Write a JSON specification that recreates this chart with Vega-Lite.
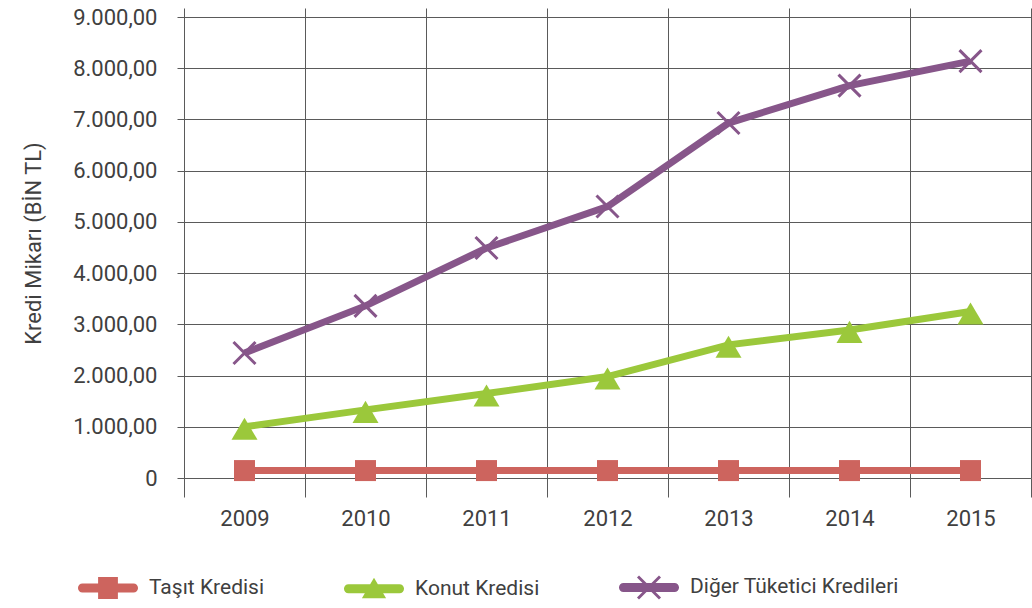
{
  "$schema": "https://vega.github.io/schema/vega-lite/v6.json",
  "width": 847,
  "height": 470,
  "autosize": {"type": "none"},
  "padding": {"left": 184, "top": 8, "right": 1, "bottom": 130},
  "background": "white",
  "config": {
    "locale": {"number": {"decimal": ",", "thousands": ".", "grouping": [3], "currency": ["", ""]}},
    "view": {"stroke": null},
    "font": "Roboto"
  },
  "data": {
    "values": [
      {"year": "2009", "series": "Taşıt Kredisi", "value": 145},
      {"year": "2010", "series": "Taşıt Kredisi", "value": 145},
      {"year": "2011", "series": "Taşıt Kredisi", "value": 145},
      {"year": "2012", "series": "Taşıt Kredisi", "value": 145},
      {"year": "2013", "series": "Taşıt Kredisi", "value": 145},
      {"year": "2014", "series": "Taşıt Kredisi", "value": 145},
      {"year": "2015", "series": "Taşıt Kredisi", "value": 145},
      {"year": "2009", "series": "Konut Kredisi", "value": 1000},
      {"year": "2010", "series": "Konut Kredisi", "value": 1330},
      {"year": "2011", "series": "Konut Kredisi", "value": 1650},
      {"year": "2012", "series": "Konut Kredisi", "value": 1980},
      {"year": "2013", "series": "Konut Kredisi", "value": 2600},
      {"year": "2014", "series": "Konut Kredisi", "value": 2890},
      {"year": "2015", "series": "Konut Kredisi", "value": 3250},
      {"year": "2009", "series": "Diğer Tüketici Kredileri", "value": 2440},
      {"year": "2010", "series": "Diğer Tüketici Kredileri", "value": 3360},
      {"year": "2011", "series": "Diğer Tüketici Kredileri", "value": 4490},
      {"year": "2012", "series": "Diğer Tüketici Kredileri", "value": 5300},
      {"year": "2013", "series": "Diğer Tüketici Kredileri", "value": 6930},
      {"year": "2014", "series": "Diğer Tüketici Kredileri", "value": 7660},
      {"year": "2015", "series": "Diğer Tüketici Kredileri", "value": 8140}
    ]
  },
  "encoding": {
    "x": {
      "field": "year",
      "type": "ordinal",
      "scale": {"type": "band", "paddingInner": 0, "paddingOuter": 0},
      "axis": {
        "title": null,
        "labelAngle": 0,
        "tickBand": "extent",
        "grid": true,
        "gridColor": "#5a5a5a",
        "gridOpacity": 1,
        "tickColor": "#5a5a5a",
        "tickSize": 19,
        "domain": false,
        "labelFontSize": 22,
        "labelColor": "#404040",
        "labelPadding": 11
      }
    },
    "y": {
      "field": "value",
      "type": "quantitative",
      "scale": {"domain": [0, 9176], "nice": false},
      "axis": {
        "values": [0, 1000, 2000, 3000, 4000, 5000, 6000, 7000, 8000, 9000],
        "format": ",.2f",
        "labelExpr": "datum.value === 0 ? '0' : datum.label",
        "grid": true,
        "gridColor": "#5a5a5a",
        "gridOpacity": 1,
        "tickColor": "#5a5a5a",
        "tickSize": 7,
        "domain": false,
        "labelFontSize": 22,
        "labelColor": "#404040",
        "labelPadding": 20,
        "title": "Kredi Mikarı (BİN TL)",
        "titleFontSize": 22,
        "titleFontWeight": "normal",
        "titleColor": "#404040",
        "titlePadding": 27
      }
    }
  },
  "layer": [
    {
      "transform": [{"filter": "datum.series === 'Taşıt Kredisi'"}],
      "mark": {"type": "line", "strokeWidth": 7, "color": "#cd645e"}
    },
    {
      "transform": [{"filter": "datum.series === 'Konut Kredisi'"}],
      "mark": {"type": "line", "strokeWidth": 7, "color": "#9bc83b"}
    },
    {
      "transform": [{"filter": "datum.series === 'Diğer Tüketici Kredileri'"}],
      "mark": {"type": "line", "strokeWidth": 7, "color": "#87568a"}
    },
    {
      "transform": [{"filter": "datum.series === 'Taşıt Kredisi'"}],
      "mark": {"type": "point", "shape": "square", "filled": true, "size": 441, "color": "#cd645e", "opacity": 1}
    },
    {
      "transform": [{"filter": "datum.series === 'Konut Kredisi'"}],
      "mark": {"type": "point", "shape": "M0,-0.7L1,1L-1,1Z", "filled": true, "size": 676, "color": "#9bc83b", "opacity": 1}
    },
    {
      "transform": [{"filter": "datum.series === 'Diğer Tüketici Kredileri'"}],
      "mark": {"type": "point", "shape": "M-1,-1L1,1M-1,1L1,-1", "filled": false, "size": 484, "strokeWidth": 3, "color": "#87568a", "opacity": 1}
    },
    {
      "transform": [{"filter": "false"}],
      "mark": {"type": "point", "filled": true, "size": 484, "strokeWidth": 0, "opacity": 1},
      "encoding": {
        "color": {
          "field": "series",
          "type": "nominal",
          "scale": {
            "domain": ["Taşıt Kredisi", "Konut Kredisi", "Diğer Tüketici Kredileri"],
            "range": ["#cd645e", "#9bc83b", "#87568a"]
          },
          "legend": {
            "title": null,
            "orient": "none",
            "direction": "horizontal",
            "legendX": -88,
            "legendY": 567,
            "labelFontSize": 21,
            "labelColor": "#404040",
            "labelLimit": 0,
            "symbolSize": 484,
            "labelOffset": 29,
            "columnPadding": 75,
            "symbolOpacity": 1
          }
        },
        "shape": {
          "field": "series",
          "type": "nominal",
          "scale": {
            "domain": ["Taşıt Kredisi", "Konut Kredisi", "Diğer Tüketici Kredileri"],
            "range": [
              "M-2.32,-0.41L2.32,-0.41A0.41,0.41 0 0 1 2.32,0.41L-2.32,0.41A0.41,0.41 0 0 1 -2.32,-0.41ZM-0.9,-1L0.9,-1L0.9,1L-0.9,1Z",
              "M-2.32,-0.41L2.32,-0.41A0.41,0.41 0 0 1 2.32,0.41L-2.32,0.41A0.41,0.41 0 0 1 -2.32,-0.41ZM0,-1L1.1,0.85L-1.1,0.85Z",
              "M-2.32,-0.41L2.32,-0.41A0.41,0.41 0 0 1 2.32,0.41L-2.32,0.41A0.41,0.41 0 0 1 -2.32,-0.41ZM-0.908,-1.092L1.092,0.908L0.908,1.092L-1.092,-0.908ZM-1.092,0.908L0.908,-1.092L1.092,-0.908L-0.908,1.092Z"
            ]
          },
          "legend": {
            "title": null,
            "orient": "none",
            "direction": "horizontal",
            "legendX": -88,
            "legendY": 567,
            "labelFontSize": 21,
            "labelColor": "#404040",
            "labelLimit": 0,
            "symbolSize": 484,
            "labelOffset": 29,
            "columnPadding": 75,
            "symbolOpacity": 1
          }
        }
      }
    }
  ]
}
